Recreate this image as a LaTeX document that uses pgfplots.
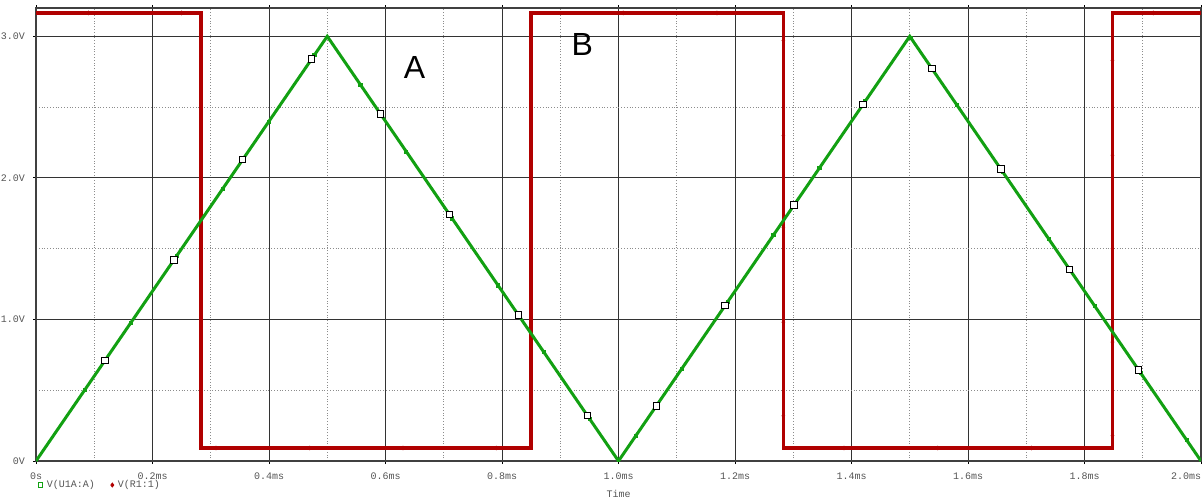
\documentclass[border=0pt]{standalone}
\usepackage{fontspec}
\setmainfont{Liberation Sans}
\setmonofont{Liberation Mono}
\usepackage{pgfplots}
\pgfplotsset{compat=1.18}
\definecolor{trigreen}{HTML}{12A012}
\definecolor{sqred}{HTML}{B00000}
\definecolor{labgray}{HTML}{555555}

\begin{document}
\begin{tikzpicture}
\begin{axis}[
 scale only axis,width=582.5pt,height=226.5pt,
 xmin=0,xmax=2,ymin=0,ymax=3.2,
 xtick={0,0.2,...,2.01},
 xticklabels={0s,0.2ms,0.4ms,0.6ms,0.8ms,1.0ms,1.2ms,1.4ms,1.6ms,1.8ms,\makebox[0pt][r]{2.0ms}},
 ytick={0,1,2,3},
 yticklabels={0V,1.0V,2.0V,3.0V},
 minor x tick num=1,minor y tick num=1,
 grid=both,
 major grid style={draw=black!80,line width=0.5pt},
 minor grid style={draw=gray!90,line width=0.4pt,densely dotted},
 tick align=outside,major tick length=1.5pt,minor tick length=0pt,
 tick style={black,line width=0.5pt},
 axis line style={black!75,line width=0.6pt},
 every tick label/.append style={font=\ttfamily\fontsize{5}{6}\selectfont,text=labgray},
 xticklabel style={yshift=-1pt},
 yticklabel style={xshift=-0.5pt},
 xlabel={Time},
 xlabel style={font=\ttfamily\fontsize{5}{6}\selectfont,text=labgray,at={(axis description cs:0.5,-0.073)},anchor=center},
 legend style={at={(axis description cs:0,-0.053)},anchor=west,draw=none,fill=none,
   legend columns=2,font=\ttfamily\fontsize{5}{6}\selectfont,text=labgray,
   /tikz/every even column/.append style={column sep=6pt},inner sep=1pt},
 legend cell align=left,
]
\coordinate (ll) at (rel axis cs:0,0);
\coordinate (ur) at (rel axis cs:1,1);

% square wave
\addplot[sqred,line width=1.8pt,line join=miter,forget plot] coordinates {
 (0,3.165) (0.283,3.165) (0.283,0.092) (0.850,0.092) (0.850,3.165)
 (1.283,3.165) (1.283,0.092) (1.848,0.092) (1.848,3.165) (2.0,3.165)};
\addplot[only marks,mark=diamond*,mark size=0.9pt,sqred,forget plot] coordinates {
 (0.090,3.165) (0.250,3.165)
 (0.283,2.64) (0.283,1.98) (0.283,1.31) (0.283,0.65)
 (0.309,0.092) (0.470,0.092) (0.630,0.092) (0.790,0.092)
 (0.850,0.51) (0.850,1.17) (0.850,1.83) (0.850,2.50)
 (1.008,3.165) (1.169,3.165)
 (1.283,2.97) (1.283,2.30) (1.283,1.65) (1.283,0.98) (1.283,0.32)
 (1.387,0.092) (1.548,0.092) (1.709,0.092)
 (1.848,0.18) (1.848,0.84) (1.848,1.50) (1.848,2.16) (1.848,2.83)
 (1.918,3.165)};

% triangle wave
\addplot[trigreen,line width=1.5pt,forget plot] coordinates {
 (0,0) (0.5,3.0) (1.0,0) (1.5,3.0) (2.0,0)};
\addplot[only marks,mark=square*,mark size=0.8pt,trigreen,forget plot] coordinates {
 (0.0840,0.504) (0.1628,0.977) (0.2416,1.450) (0.3204,1.922) (0.3992,2.395)
 (0.4780,2.868) (0.5568,2.659) (0.6356,2.186) (0.7144,1.714) (0.7932,1.241)
 (0.8720,0.768) (0.9508,0.295) (1.0296,0.178) (1.1084,0.650) (1.1872,1.123)
 (1.2660,1.596) (1.3448,2.069) (1.4236,2.542) (1.5024,2.986) (1.5812,2.513)
 (1.6600,2.040) (1.7388,1.567) (1.8176,1.094) (1.8964,0.622) (1.9752,0.149)};
\addplot[only marks,mark=square*,mark size=1.6pt,draw=black,fill=white,line width=0.45pt,forget plot] coordinates {
 (0.1183,0.710) (0.2366,1.420) (0.3549,2.129) (0.4732,2.839)
 (0.5915,2.451) (0.7098,1.741) (0.8281,1.031) (0.9464,0.322)
 (1.0647,0.388) (1.1830,1.098) (1.3013,1.808) (1.4196,2.518)
 (1.5379,2.773) (1.6562,2.063) (1.7745,1.353) (1.8928,0.643)};

\addlegendimage{only marks,mark=square,mark size=1.1pt,trigreen,line width=0.5pt}
\addlegendentry{V(U1A:A)}
\addlegendimage{only marks,mark=diamond*,mark size=1pt,sqred}
\addlegendentry{V(R1:1)}

\node[font=\fontsize{16}{18}\selectfont] at (axis cs:0.650,2.78) {A};
\node[font=\fontsize{16}{18}\selectfont] at (axis cs:0.938,2.94) {B};
\end{axis}
\pgfresetboundingbox
\path ([xshift=-18pt,yshift=-19pt]ll) rectangle ([xshift=0.5pt,yshift=4pt]ur);
\end{tikzpicture}
\end{document}
